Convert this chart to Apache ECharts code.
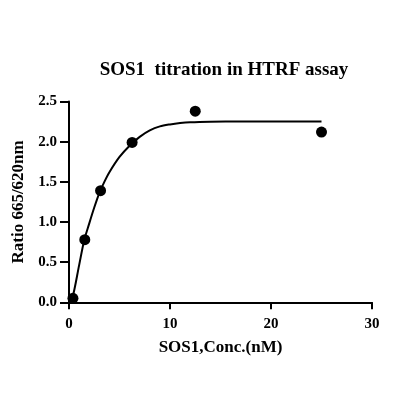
<!DOCTYPE html>
<html><head><meta charset="utf-8">
<script src="https://cdn.jsdelivr.net/npm/echarts@6/dist/echarts.min.js"></script>
<style>html,body{margin:0;padding:0;background:#fff}#c{width:416px;height:416px}</style>
</head><body><div id="c"></div>
<script>
const titleText = 'SOS1  titration in HTRF assay';
const xName = 'SOS1,Conc.(nM)';
const yName = 'Ratio 665/620nm';
const pointX = [0.39, 1.5625, 3.125, 6.25, 12.5, 25];
const pointY = [0.05, 0.78, 1.39, 1.99, 2.38, 2.12];
const curveX = [0, 0.33, 1, 1.5, 2, 2.5, 3, 3.5, 4, 5, 6, 7, 8, 9, 10, 11, 12, 14, 17, 20, 25];
const curveY = [0, 0.05, 0.46, 0.77, 0.98, 1.18, 1.36, 1.50, 1.62, 1.81, 1.95, 2.06, 2.14, 2.19, 2.215, 2.232, 2.242, 2.249, 2.252, 2.252, 2.252];
const xTicks = [0, 10, 20, 30];
const yTicks = [0.0, 0.5, 1.0, 1.5, 2.0, 2.5];

const font = 'Liberation Serif';
const chart = echarts.init(document.getElementById('c'));
chart.setOption({
  animation: false,
  backgroundColor: '#fff',
  title: {
    text: titleText, left: 219, top: 56, textAlign: 'center',
    textStyle: { fontFamily: font, fontWeight: 'bold', fontSize: 19, color: '#000' }
  },
  grid: { left: 69, right: 44, top: 101.5, bottom: 113.7 },
  xAxis: {
    type: 'value', min: 0, max: 30, interval: 10,
    name: xName, nameLocation: 'middle', nameGap: 37,
    nameTextStyle: { fontFamily: font, fontWeight: 'bold', fontSize: 17, color: '#000' },
    axisLine: { onZero: false, lineStyle: { color: '#000', width: 2 } },
    axisTick: { show: true, length: 7, lineStyle: { color: '#000', width: 2 } },
    axisLabel: { fontFamily: font, fontWeight: 'bold', fontSize: 15, color: '#000', margin: 14,
      formatter: v => xTicks.includes(v) ? String(v) : '' },
    splitLine: { show: false }
  },
  yAxis: {
    type: 'value', min: 0, max: 2.5, interval: 0.5,
    name: yName, nameLocation: 'middle', nameGap: 36,
    nameTextStyle: { fontFamily: font, fontWeight: 'bold', fontSize: 17, color: '#000' },
    axisLine: { show: true, onZero: false, lineStyle: { color: '#000', width: 2 } },
    axisTick: { show: true, length: 9, lineStyle: { color: '#000', width: 2 } },
    axisLabel: { fontFamily: font, fontWeight: 'bold', fontSize: 15, color: '#000', margin: 12,
      formatter: v => { const t = yTicks.find(a => Math.abs(a - v) < 1e-9); return t === undefined ? '' : t.toFixed(1); } },
    splitLine: { show: false }
  },
  series: [
    {
      type: 'line', data: curveX.map((x, i) => [x, curveY[i]]), smooth: 0.3,
      showSymbol: false, symbol: 'none', clip: false,
      lineStyle: { color: '#000', width: 2 }
    },
    {
      type: 'scatter', data: pointX.map((x, i) => [x, pointY[i]]), symbol: 'circle', symbolSize: 11,
      clip: false, itemStyle: { color: '#000', opacity: 1 }
    }
  ]
});
</script></body></html>
